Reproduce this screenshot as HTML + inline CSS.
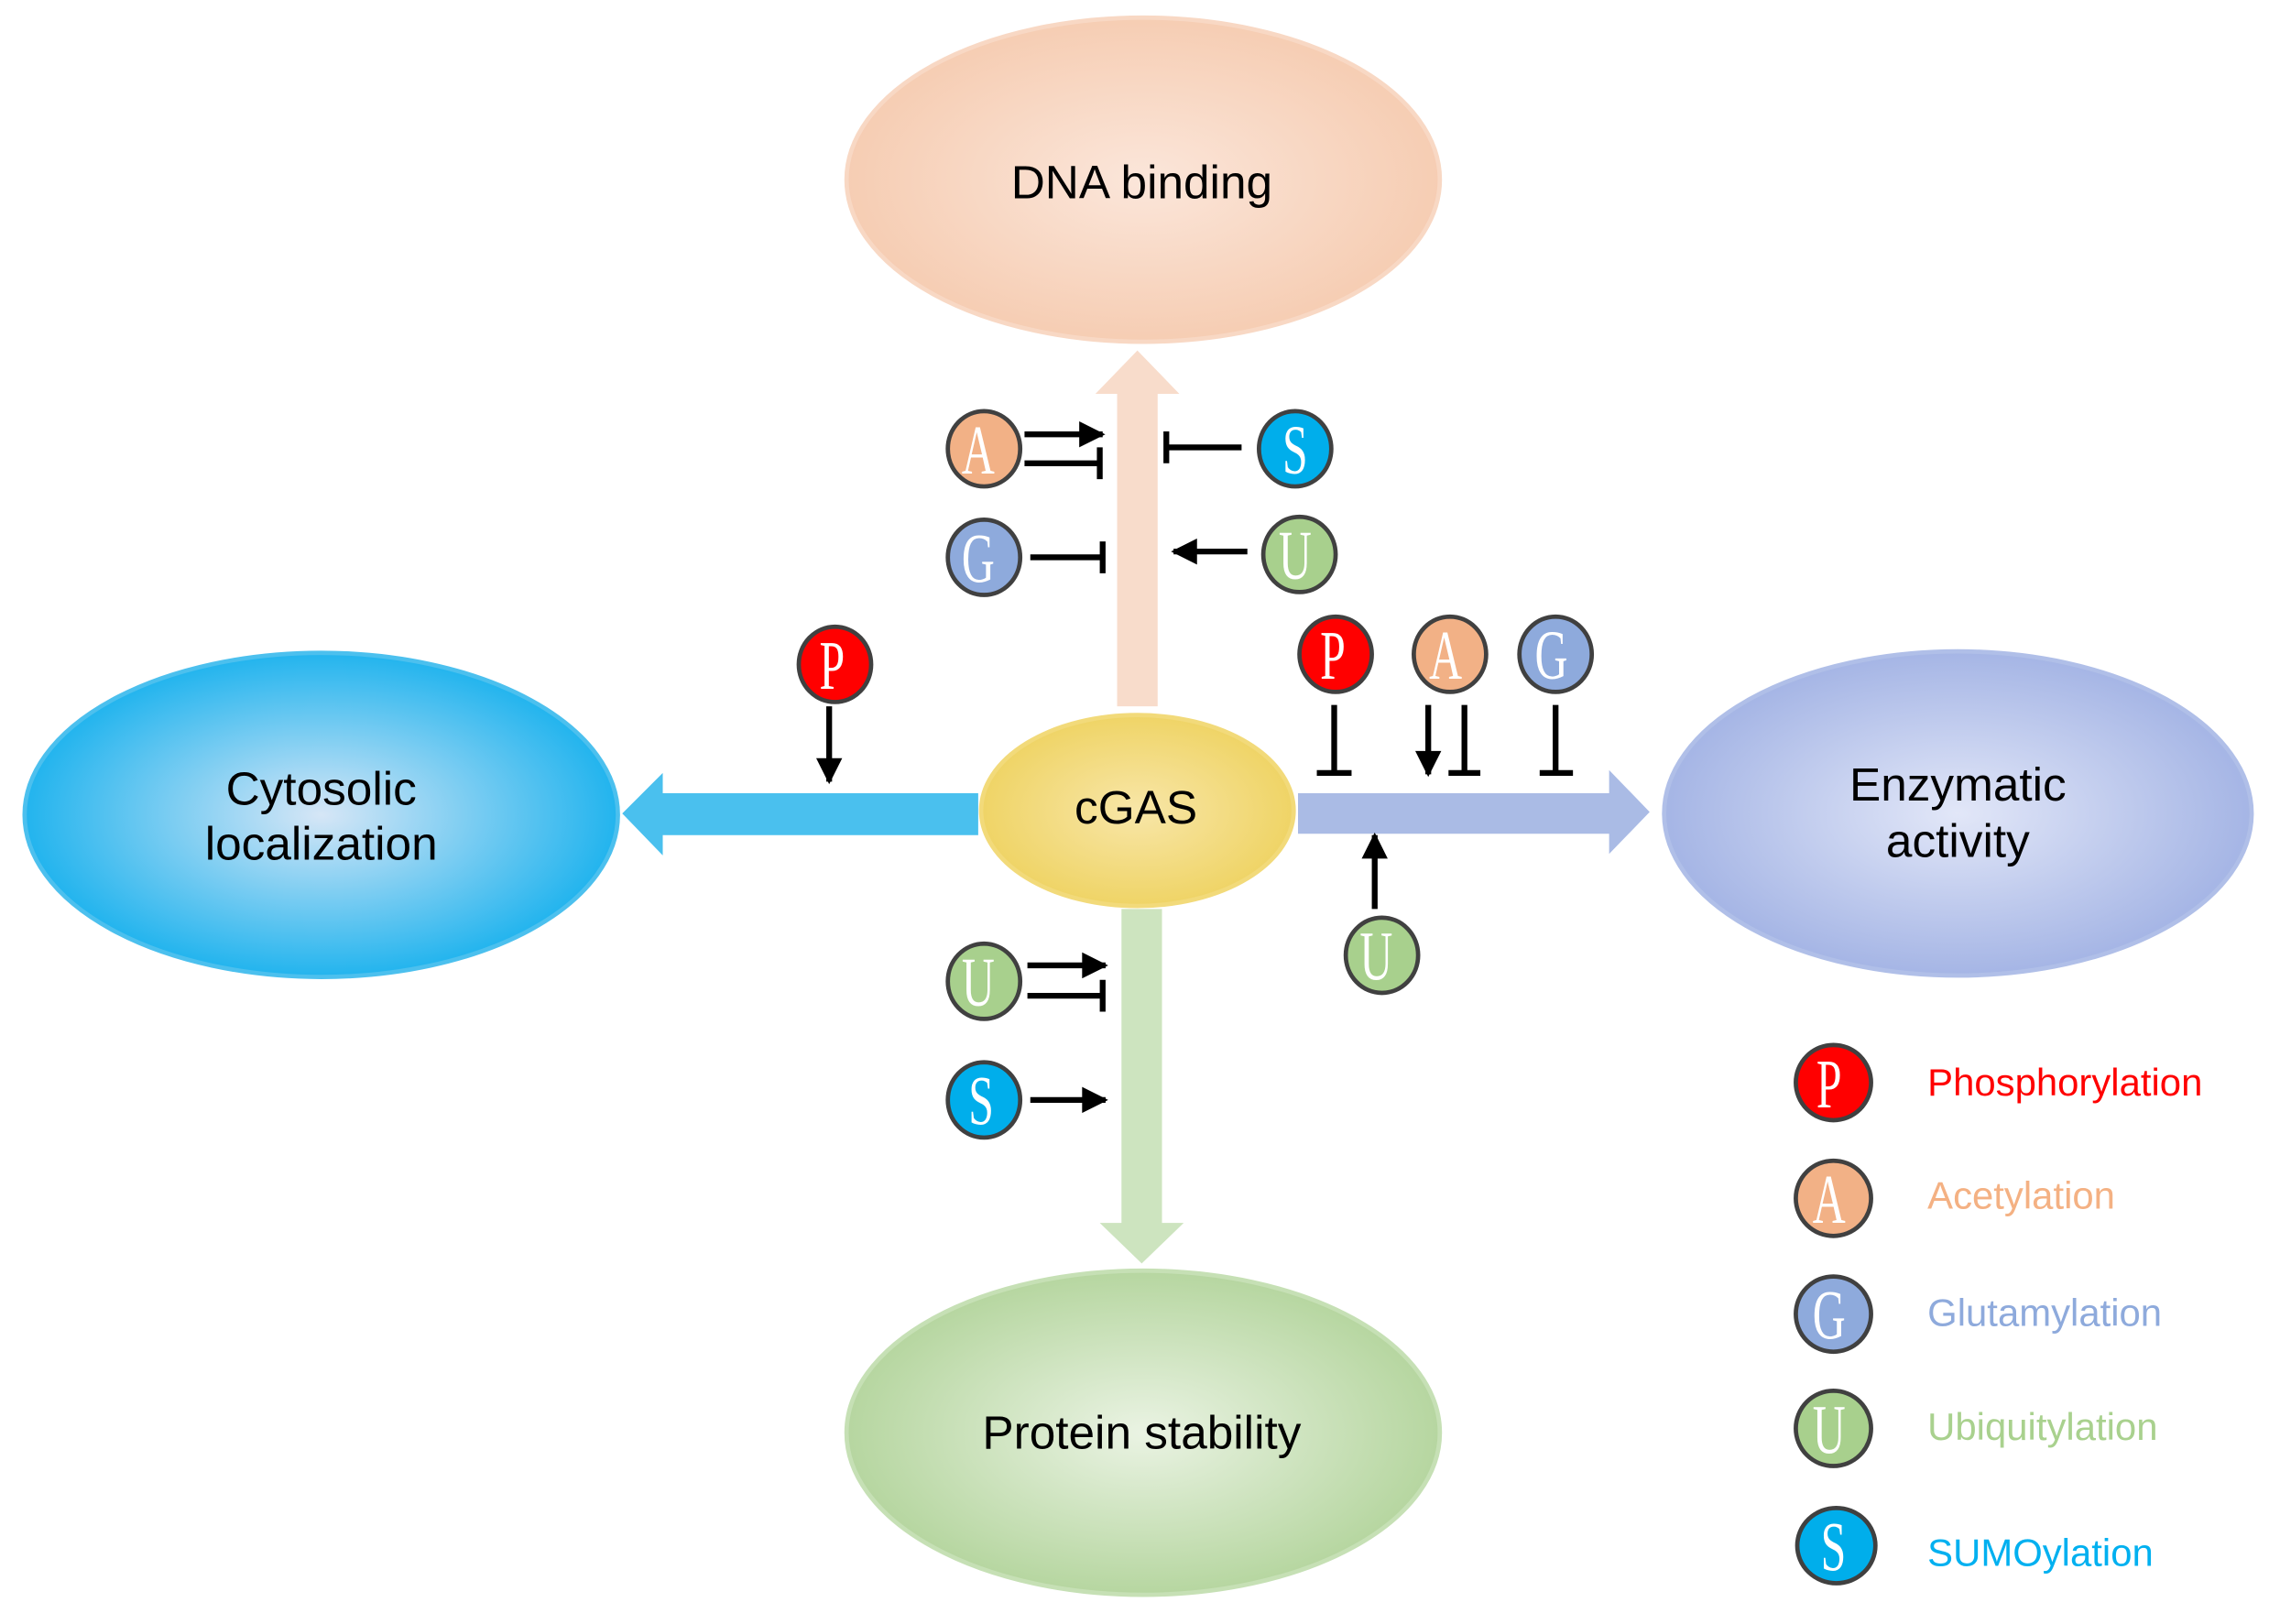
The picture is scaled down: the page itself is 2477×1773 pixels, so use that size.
<!DOCTYPE html>
<html><head><meta charset="utf-8"><style>
html,body{margin:0;padding:0;background:#fff;}
svg{display:block;}
.lbl{font-family:"Liberation Sans",Arial,sans-serif;font-size:32.5px;fill:#000;text-anchor:middle;}
.leg{font-family:"Liberation Sans",Arial,sans-serif;font-size:26.5px;}
.bl{font-family:"Liberation Serif",serif;font-size:42px;fill:#fff;text-anchor:middle;}
</style></head><body>
<svg width="2477" height="1773" viewBox="0 0 1568 1122" xmlns="http://www.w3.org/2000/svg">
<defs>
<radialGradient id="gO"><stop offset="0" stop-color="#fbe6da"/><stop offset="1" stop-color="#f6cdb3"/></radialGradient>
<radialGradient id="gB"><stop offset="0" stop-color="#d6e6f6"/><stop offset="1" stop-color="#22b4ee"/></radialGradient>
<radialGradient id="gP"><stop offset="0" stop-color="#e2e7f8"/><stop offset="1" stop-color="#a5b5e5"/></radialGradient>
<radialGradient id="gG"><stop offset="0" stop-color="#eaf3e3"/><stop offset="1" stop-color="#b6d6a0"/></radialGradient>
<radialGradient id="gY"><stop offset="0" stop-color="#f8e6a8"/><stop offset="1" stop-color="#efd466"/></radialGradient>
<marker id="ar" viewBox="0 0 10 10" refX="9" refY="5" markerWidth="5" markerHeight="4.5" orient="auto-start-reverse"><path d="M0,0L10,5L0,10z" fill="#000"/></marker>
</defs>
<ellipse cx="790" cy="124" rx="205" ry="112" fill="url(#gO)" stroke="#f8d8c4" stroke-width="3"/>
<ellipse cx="222" cy="563" rx="205" ry="112" fill="url(#gB)" stroke="#4cc0ee" stroke-width="3"/>
<ellipse cx="1353" cy="562" rx="203" ry="112" fill="url(#gP)" stroke="#b0bfe8" stroke-width="3"/>
<ellipse cx="790" cy="990" rx="205" ry="112" fill="url(#gG)" stroke="#c6e0b5" stroke-width="3"/>
<path d="M772,488V272H757L786,242L815,272H800V488Z" fill="#f8dccb"/>
<path d="M676,548H458V534L430,562L458,591V577H676Z" fill="#4ac0ee"/>
<path d="M897,548H1112V532L1140,561L1112,590V576H897Z" fill="#aabbe5"/>
<path d="M775,628V845H760L789,873L818,845H803V628Z" fill="#cde4bf"/>
<ellipse cx="786" cy="560" rx="108" ry="66" fill="url(#gY)" stroke="#f2da7a" stroke-width="3"/>
<text class="lbl" x="789" y="137">DNA binding</text>
<text class="lbl" x="222" y="556">Cytosolic</text>
<text class="lbl" x="222" y="594">localization</text>
<text class="lbl" x="1353" y="553">Enzymatic</text>
<text class="lbl" x="1353" y="592">activity</text>
<text class="lbl" x="789" y="1001">Protein stability</text>
<text class="lbl" x="785" y="569">cGAS</text>
<g stroke="#000" stroke-width="4" fill="none">
<line x1="708" y1="300" x2="762" y2="300" marker-end="url(#ar)"/>
<line x1="708" y1="320" x2="760" y2="320"/><line x1="760" y1="309" x2="760" y2="331"/>
<line x1="806" y1="309" x2="858" y2="309"/><line x1="806" y1="298" x2="806" y2="320"/>
<line x1="712" y1="385" x2="762" y2="385"/><line x1="762" y1="374" x2="762" y2="396"/>
<line x1="862" y1="381" x2="811" y2="381" marker-end="url(#ar)"/>
<line x1="573" y1="488" x2="573" y2="540" marker-end="url(#ar)"/>
<line x1="922" y1="487" x2="922" y2="534"/><line x1="910" y1="534" x2="934" y2="534"/>
<line x1="987" y1="487" x2="987" y2="535" marker-end="url(#ar)"/>
<line x1="1012" y1="487" x2="1012" y2="534"/><line x1="1001" y1="534" x2="1023" y2="534"/>
<line x1="1075" y1="487" x2="1075" y2="534"/><line x1="1064" y1="534" x2="1087" y2="534"/>
<line x1="950" y1="628" x2="950" y2="577" marker-end="url(#ar)"/>
<line x1="710" y1="667" x2="764" y2="667" marker-end="url(#ar)"/>
<line x1="710" y1="688" x2="762" y2="688"/><line x1="762" y1="677" x2="762" y2="699"/>
<line x1="712" y1="760" x2="764" y2="760" marker-end="url(#ar)"/>
</g>
<g stroke="#404040" stroke-width="3">
<ellipse cx="680" cy="310" rx="25" ry="26" fill="#f2b186"/>
<ellipse cx="895" cy="310" rx="25" ry="26" fill="#00aeeb"/>
<ellipse cx="680" cy="385" rx="25" ry="26" fill="#8eaadc"/>
<ellipse cx="898" cy="383" rx="25" ry="26" fill="#a8d08d"/>
<ellipse cx="577" cy="459" rx="25" ry="26" fill="#ff0000"/>
<ellipse cx="923" cy="452" rx="25" ry="26" fill="#ff0000"/>
<ellipse cx="1002" cy="452" rx="25" ry="26" fill="#f2b186"/>
<ellipse cx="1075" cy="452" rx="25" ry="26" fill="#8eaadc"/>
<ellipse cx="955" cy="660" rx="25" ry="26" fill="#a8d08d"/>
<ellipse cx="680" cy="678" rx="25" ry="26" fill="#a8d08d"/>
<ellipse cx="680" cy="760" rx="25" ry="26" fill="#00aeeb"/>
<ellipse cx="1267" cy="748" rx="26" ry="26" fill="#ff0000"/>
<ellipse cx="1267" cy="828" rx="26" ry="26" fill="#f2b186"/>
<ellipse cx="1267" cy="908" rx="26" ry="26" fill="#8eaadc"/>
<ellipse cx="1267" cy="987" rx="26" ry="26" fill="#a8d08d"/>
<ellipse cx="1269" cy="1068" rx="27" ry="26" fill="#00aeeb"/>
</g>
<g class="bl">
<text transform="translate(676,327) scale(0.75,1.15)">A</text>
<text transform="translate(895,327) scale(0.75,1.15)">S</text>
<text transform="translate(676,402) scale(0.75,1.15)">G</text>
<text transform="translate(895,400) scale(0.75,1.15)">U</text>
<text transform="translate(575,476) scale(0.75,1.15)">P</text>
<text transform="translate(921,469) scale(0.75,1.15)">P</text>
<text transform="translate(999,469) scale(0.75,1.15)">A</text>
<text transform="translate(1072,469) scale(0.75,1.15)">G</text>
<text transform="translate(951,677) scale(0.75,1.15)">U</text>
<text transform="translate(676,695) scale(0.75,1.15)">U</text>
<text transform="translate(678,777) scale(0.75,1.15)">S</text>
<text transform="translate(1264,765) scale(0.75,1.15)">P</text>
<text transform="translate(1264,845) scale(0.75,1.15)">A</text>
<text transform="translate(1264,925) scale(0.75,1.15)">G</text>
<text transform="translate(1264,1004) scale(0.75,1.15)">U</text>
<text transform="translate(1267,1085) scale(0.75,1.15)">S</text>
</g>
<text class="leg" x="1332" y="757" fill="#ff0000">Phosphorylation</text>
<text class="leg" x="1332" y="835" fill="#f4b183">Acetylation</text>
<text class="leg" x="1332" y="916" fill="#8eaadc">Glutamylation</text>
<text class="leg" x="1332" y="995" fill="#a9d18e">Ubiquitylation</text>
<text class="leg" x="1332" y="1082" fill="#00b0f0">SUMOylation</text>
</svg>
</body></html>
